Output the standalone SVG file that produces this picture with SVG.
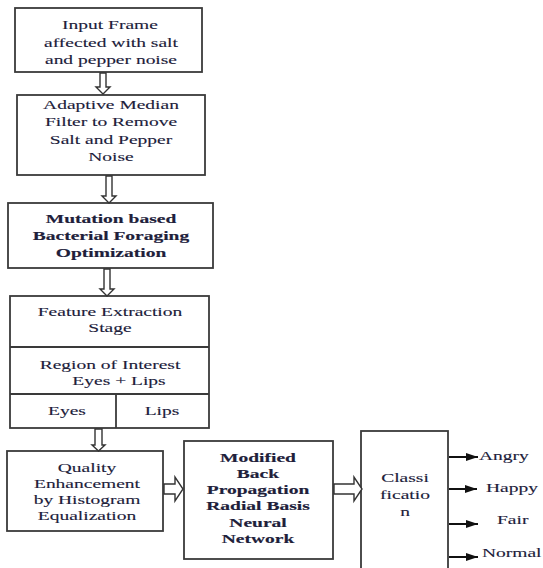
<svg xmlns="http://www.w3.org/2000/svg" width="543" height="568" viewBox="0 0 543 568">
<style>
.box{fill:#fff;stroke:#3a3a3a;stroke-width:1.8}
.ln{stroke:#3a3a3a;stroke-width:1.8;fill:none}
.t{font-family:"Liberation Serif","Times New Roman",serif;font-size:13px;fill:#20203a;stroke:#20203a;stroke-width:0.12;text-anchor:middle}
.b{font-weight:bold;stroke-width:0.15}
.s{text-anchor:start}
.ha{fill:#fff;stroke:#333;stroke-width:1.4;stroke-linejoin:miter}
.oa{stroke:#111;stroke-width:2;fill:none}
</style>
<defs>
<marker id="tri" viewBox="0 0 12 8" refX="12" refY="4" markerWidth="12" markerHeight="8" markerUnits="userSpaceOnUse" orient="auto">
<path d="M0,0 L12,4 L0,8 Z" fill="#111"/>
</marker>
</defs>
<rect width="543" height="568" fill="#fff"/>

<g id="input">
<rect class="box" x="15" y="8" width="187" height="64"/>
<text class="t" transform="translate(110 0) scale(1.5 1)" x="0" y="29">Input Frame</text>
<text class="t" transform="translate(111 0) scale(1.5 1)" x="0" y="47">affected with salt</text>
<text class="t" transform="translate(111 0) scale(1.5 1)" x="0" y="64">and pepper noise</text>
</g>

<g id="median">
<rect class="box" x="17" y="95" width="188" height="80"/>
<text class="t" transform="translate(111 0) scale(1.5 1)" x="0" y="109">Adaptive Median</text>
<text class="t" transform="translate(111 0) scale(1.5 1)" x="0" y="126.5">Filter to Remove</text>
<text class="t" transform="translate(111 0) scale(1.5 1)" x="0" y="144">Salt and Pepper</text>
<text class="t" transform="translate(111 0) scale(1.5 1)" x="0" y="161.5">Noise</text>
</g>

<g id="mbfo">
<rect class="box" x="8" y="203" width="205" height="65"/>
<text class="t b" transform="translate(111 0) scale(1.5 1)" x="0" y="223">Mutation based</text>
<text class="t b" transform="translate(111 0) scale(1.5 1)" x="0" y="240">Bacterial Foraging</text>
<text class="t b" transform="translate(111 0) scale(1.5 1)" x="0" y="257">Optimization</text>
</g>

<g id="feature">
<rect class="box" x="10" y="296" width="199" height="132"/>
<line class="ln" x1="10" y1="347" x2="209" y2="347"/>
<line class="ln" x1="10" y1="394" x2="209" y2="394"/>
<line class="ln" x1="116" y1="394" x2="116" y2="428"/>
<text class="t" transform="translate(110 0) scale(1.5 1)" x="0" y="316">Feature Extraction</text>
<text class="t" transform="translate(110 0) scale(1.5 1)" x="0" y="332">Stage</text>
<text class="t" transform="translate(110 0) scale(1.5 1)" x="0" y="369">Region of Interest</text>
<text class="t" transform="translate(119 0) scale(1.5 1)" x="0" y="385">Eyes + Lips</text>
<text class="t" transform="translate(67 0) scale(1.5 1)" x="0" y="415">Eyes</text>
<text class="t" transform="translate(162 0) scale(1.5 1)" x="0" y="415">Lips</text>
</g>

<g id="quality">
<rect class="box" x="7" y="451" width="156" height="80"/>
<text class="t" transform="translate(87 0) scale(1.5 1)" x="0" y="472">Quality</text>
<text class="t" transform="translate(87 0) scale(1.5 1)" x="0" y="488">Enhancement</text>
<text class="t" transform="translate(87 0) scale(1.5 1)" x="0" y="504">by Histogram</text>
<text class="t" transform="translate(87 0) scale(1.5 1)" x="0" y="520">Equalization</text>
</g>

<g id="mbprbnn">
<rect class="box" x="184" y="441" width="149" height="118"/>
<text class="t b" transform="translate(258 0) scale(1.5 1)" x="0" y="462">Modified</text>
<text class="t b" transform="translate(258 0) scale(1.5 1)" x="0" y="478">Back</text>
<text class="t b" transform="translate(258 0) scale(1.5 1)" x="0" y="494">Propagation</text>
<text class="t b" transform="translate(258 0) scale(1.5 1)" x="0" y="510">Radial Basis</text>
<text class="t b" transform="translate(258 0) scale(1.5 1)" x="0" y="527">Neural</text>
<text class="t b" transform="translate(258 0) scale(1.5 1)" x="0" y="543">Network</text>
</g>

<g id="classification">
<rect class="box" x="361" y="431" width="87" height="145"/>
<text class="t" transform="translate(405 0) scale(1.5 1)" x="0" y="482">Classi</text>
<text class="t" transform="translate(405 0) scale(1.5 1)" x="0" y="499">ficatio</text>
<text class="t" transform="translate(405 0) scale(1.5 1)" x="0" y="516">n</text>
</g>

<g id="outputs">
<text class="t s" transform="translate(479 0) scale(1.5 1)" x="0" y="460">Angry</text>
<text class="t s" transform="translate(486 0) scale(1.5 1)" x="0" y="492">Happy</text>
<text class="t s" transform="translate(497 0) scale(1.5 1)" x="0" y="524">Fair</text>
<text class="t s" transform="translate(482 0) scale(1.5 1)" x="0" y="557">Normal</text>
</g>

<g id="connectors">
<path class="ha" d="M100,73 V87 H96 L103,94 L110,87 H106 V73 Z"/>
<path class="ha" d="M106,176 V196 H102 L109,203 L116,196 H112 V176 Z"/>
<path class="ha" d="M104,269 V289 H100 L107,296 L114,289 H110 V269 Z"/>
<path class="ha" d="M95,429 V445 H92 L98.5,451 L105,445 H102 V429 Z"/>
<path class="ha" d="M164,484 H175 V477 L183,489 L175,501 V494 H164 Z"/>
<path class="ha" d="M334,484 H354 V477 L362,489 L354,501 V494 H334 Z"/>
<line class="oa" x1="449" y1="457" x2="478" y2="457" marker-end="url(#tri)"/>
<line class="oa" x1="449" y1="489" x2="477" y2="489" marker-end="url(#tri)"/>
<line class="oa" x1="449" y1="524" x2="478" y2="524" marker-end="url(#tri)"/>
<line class="oa" x1="449" y1="557" x2="478" y2="557" marker-end="url(#tri)"/>
</g>
</svg>
